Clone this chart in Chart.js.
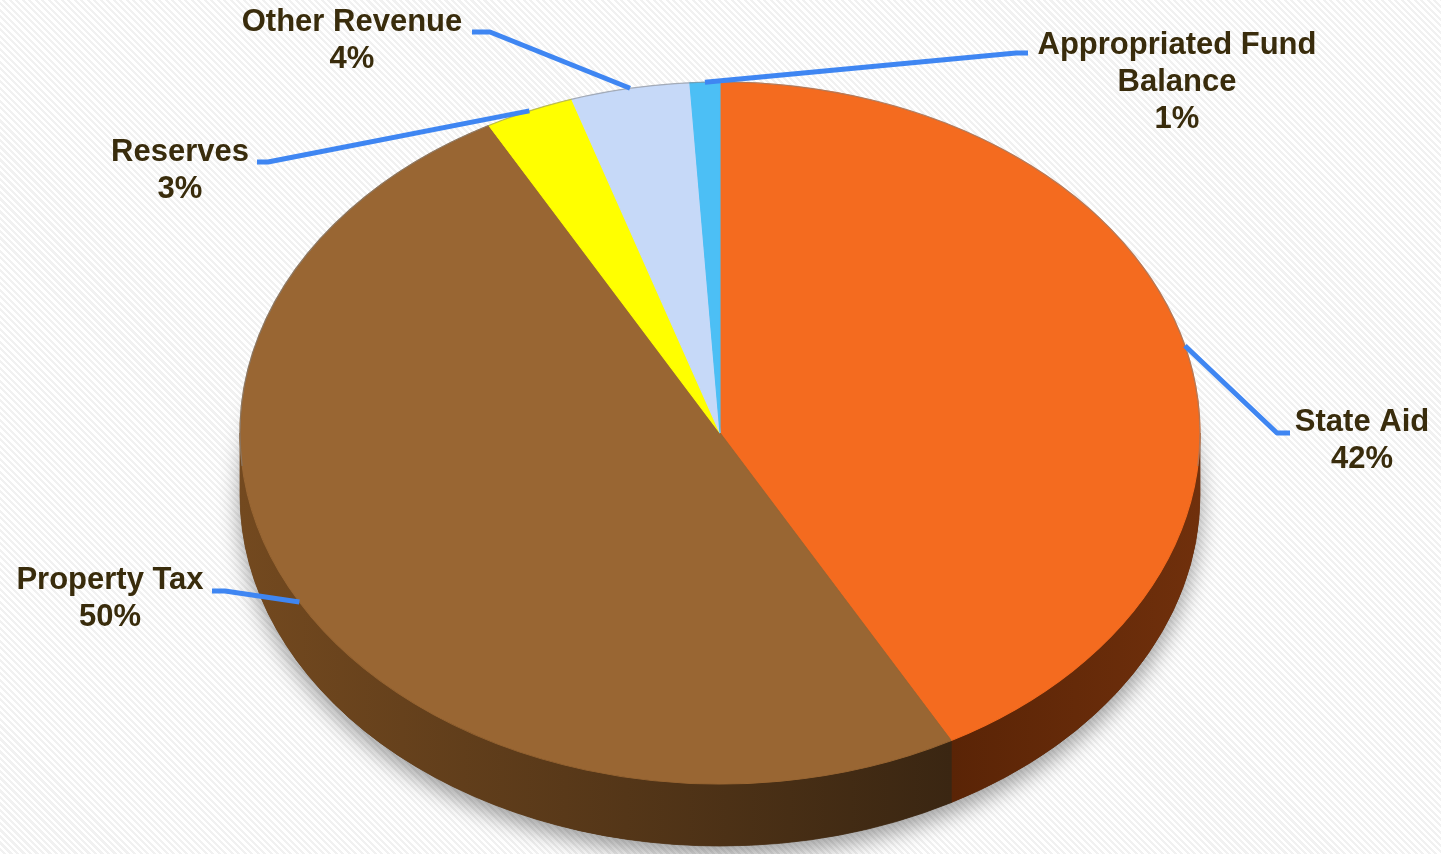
<!DOCTYPE html>
<html><head><meta charset="utf-8">
<script src="https://cdn.jsdelivr.net/npm/chart.js@4.4.0/dist/chart.umd.min.js"></script>
<style>
html,body{margin:0;padding:0;width:1441px;height:854px;overflow:hidden;
background:#fff repeating-linear-gradient(45deg,#ffffff 0px,#ffffff 2.4px,#f1f1f1 2.4px,#f1f1f1 4.6px);}
#wrap{position:absolute;left:0;top:0;width:1441px;height:854px;}
</style></head><body>
<div id="wrap"><canvas id="c" width="1441" height="854"></canvas></div>
<script>
// ---- data ----
const categories = ['State Aid', 'Property Tax', 'Reserves', 'Other Revenue', 'Appropriated Fund Balance'];
const shares = [42, 50, 3, 4, 1];
const labelLines = [['State Aid'], ['Property Tax'], ['Reserves'], ['Other Revenue'], ['Appropriated Fund', 'Balance']];

// ---- styles ----
const topColors = ['#F46B1F', '#996633', '#FFFF00', '#C6D9F8', '#4CBFF5'];
const sideStart = ['#70300C', '#3A2612', '#8A8A00', '#7F8CA0', '#2A7FA8'];
const sideEnd   = ['#5A2406', '#73491F', '#8A8A00', '#7F8CA0', '#2A7FA8'];
const geom = { ex: 720, ey: 433, rx: 480, ry: 351, depth: 62 };
const labelLayout = [
  { cx: 1362, y: 422, elbow: [1277, 433], end: [1290, 433] },
  { cx: 110,  y: 580, elbow: [225, 591],  end: [212, 591] },
  { cx: 180,  y: 152, elbow: [268, 162],  end: [257, 162] },
  { cx: 352,  y: 22,  elbow: [490, 32],   end: [472, 32] },
  { cx: 1177, y: 45,  elbow: [1016, 53],  end: [1028, 53] }
];
const lineHeight = 37;
const labelFont = 'bold 31px "Liberation Sans", Arial, sans-serif';
const labelColor = '#392C0C';
const leaderColor = '#3F86F2';

function ellPt(a, dy) {
  return [geom.ex + geom.rx * Math.cos(a), geom.ey + (dy || 0) + geom.ry * Math.sin(a)];
}

function drawSide(ctx, lo, hi, i) {
  const G = geom;
  const p1 = ellPt(lo), p2 = ellPt(hi);
  const g = ctx.createLinearGradient(p1[0], 0, p2[0] === p1[0] ? p1[0] + 1 : p2[0], 0);
  g.addColorStop(0, sideStart[i]);
  g.addColorStop(1, sideEnd[i]);
  ctx.beginPath();
  ctx.ellipse(G.ex, G.ey, G.rx, G.ry, 0, lo, hi, false);
  ctx.lineTo(p2[0], p2[1] + G.depth);
  ctx.ellipse(G.ex, G.ey + G.depth, G.rx, G.ry, 0, hi, lo, true);
  ctx.closePath();
  ctx.fillStyle = g;
  ctx.fill();
  ctx.strokeStyle = g;
  ctx.lineWidth = 0.8;
  ctx.stroke();
}

const pie3d = {
  id: 'pie3d',
  beforeDatasetsDraw(chart) {
    const ctx = chart.ctx;
    const G = geom;
    const arcs = chart.getDatasetMeta(0).data;
    ctx.save();
    ctx.shadowColor = 'rgba(0,0,0,0.38)';
    ctx.shadowBlur = 22;
    ctx.shadowOffsetY = 10;
    ctx.fillStyle = '#3A2612';
    ctx.beginPath();
    ctx.ellipse(G.ex, G.ey + G.depth, G.rx, G.ry, 0, 0, Math.PI * 2);
    ctx.fill();
    ctx.restore();
    arcs.forEach((arc, i) => {
      const p = arc.getProps(['startAngle', 'endAngle'], true);
      for (let k = -1; k <= 2; k++) {
        const lo = Math.max(p.startAngle, 2 * Math.PI * k);
        const hi = Math.min(p.endAngle, 2 * Math.PI * k + Math.PI);
        if (hi > lo) drawSide(ctx, lo, hi, i);
      }
    });
    const a0 = arcs[0];
    const R = a0.outerRadius;
    ctx.save();
    ctx.translate(G.ex, G.ey);
    ctx.scale(G.rx / R, G.ry / R);
    ctx.translate(-a0.x, -a0.y);
  },
  afterDatasetsDraw(chart) {
    const ctx = chart.ctx;
    ctx.restore();
    const G = geom;
    ctx.save();
    ctx.strokeStyle = 'rgba(130,130,130,0.55)';
    ctx.lineWidth = 1.3;
    ctx.beginPath();
    ctx.ellipse(G.ex, G.ey, G.rx, G.ry, 0, Math.PI * 0.97, Math.PI * 2.03);
    ctx.stroke();
    ctx.restore();
    const arcs = chart.getDatasetMeta(0).data;
    const total = shares.reduce((a, b) => a + b, 0);
    arcs.forEach((arc, i) => {
      const p = arc.getProps(['startAngle', 'endAngle'], true);
      const mid = (p.startAngle + p.endAngle) / 2;
      const s = ellPt(mid);
      const L = labelLayout[i];
      ctx.save();
      ctx.strokeStyle = leaderColor;
      ctx.lineWidth = 5;
      ctx.lineJoin = 'round';
      ctx.beginPath();
      ctx.moveTo(s[0], s[1]);
      ctx.lineTo(L.elbow[0], L.elbow[1]);
      ctx.lineTo(L.end[0], L.end[1]);
      ctx.stroke();
      ctx.fillStyle = labelColor;
      ctx.font = labelFont;
      ctx.textAlign = 'center';
      ctx.textBaseline = 'middle';
      const lines = labelLines[i].concat([Math.round(shares[i] / total * 100) + '%']);
      lines.forEach((t, j) => ctx.fillText(t, L.cx, L.y + j * lineHeight));
      ctx.restore();
    });
  }
};

new Chart(document.getElementById('c'), {
  type: 'pie',
  data: {
    labels: categories,
    datasets: [{
      data: shares,
      backgroundColor: topColors,
      borderColor: topColors,
      borderWidth: 1,
      clip: false
    }]
  },
  options: {
    responsive: false,
    animation: false,
    events: [],
    layout: { padding: 0 },
    plugins: { legend: { display: false }, tooltip: { enabled: false } }
  },
  plugins: [pie3d]
});
</script>
</body></html>
